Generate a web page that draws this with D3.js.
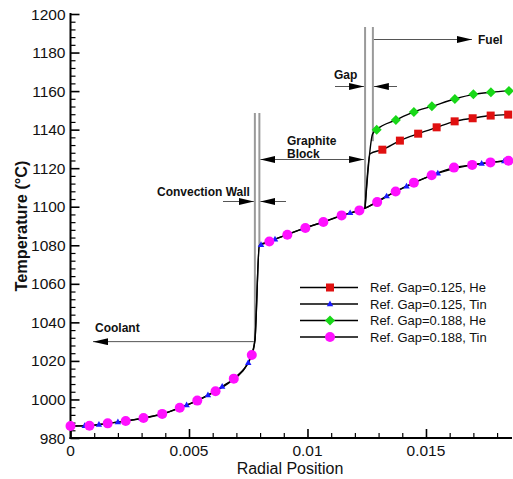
<!DOCTYPE html>
<html><head><meta charset="utf-8">
<script src="https://cdn.jsdelivr.net/npm/d3@7"></script>
<style>
body{margin:0;background:#fff;}
svg{display:block;font-family:"Liberation Sans",Arial,sans-serif;}
</style></head>
<body>
<svg id="chart" width="513" height="479"></svg>
<script>
// ---- data ----
const xTicks = [0, 0.005, 0.01, 0.015];
const xTickLabels = ["0", "0.005", "0.01", "0.015"];
const yTicks = [980,1000,1020,1040,1060,1080,1100,1120,1140,1160,1180,1200];

// Ref. Gap=0.188, Tin (magenta circles)
const tin188X = [0, 0.0008, 0.00157, 0.00233, 0.00308, 0.00387, 0.00461, 0.00535, 0.00612, 0.00689, 0.00765, 0.00839, 0.00915, 0.00991, 0.01067, 0.01144, 0.01219, 0.01294, 0.01372, 0.01449, 0.01524, 0.01618, 0.01695, 0.01772, 0.01848];
const tin188T = [986.2, 986.4, 987.6, 988.8, 990.4, 992.5, 995.7, 999.4, 1004.3, 1010.8, 1023.1, 1082.0, 1085.5, 1089.0, 1092.1, 1095.5, 1098.1, 1102.4, 1107.9, 1112.5, 1116.3, 1120.3, 1121.7, 1123.0, 1123.9];

// Ref. Gap=0.125, Tin (blue triangles)
const tin125X = [0.0006, 0.0012, 0.0020, 0.0030, 0.0038, 0.0049, 0.0058, 0.0064, 0.0075, 0.00804, 0.00863, 0.00982, 0.0106, 0.0118, 0.01334, 0.01418, 0.0155, 0.01689, 0.01735, 0.0183];
const tin125T = [986.3, 987.0, 988.3, 990.2, 992.2, 997.1, 1002.3, 1006.7, 1019.0, 1080.3, 1083.1, 1088.6, 1091.8, 1096.8, 1105.5, 1110.6, 1117.4, 1121.6, 1122.4, 1123.7];

// Ref. Gap=0.125, He (red squares)
const he125X = [0.01316, 0.0139, 0.01467, 0.01545, 0.01621, 0.01697, 0.01773, 0.01847];
const he125T = [1129.6, 1134.3, 1137.9, 1141.2, 1144.3, 1145.9, 1147.3, 1147.8];

// Ref. Gap=0.188, He (green diamonds)
const he188X = [0.01292, 0.01373, 0.01449, 0.01525, 0.01622, 0.017, 0.01774, 0.0185];
const he188T = [1140.0, 1145.0, 1149.2, 1152.1, 1155.9, 1158.3, 1159.4, 1160.1];

// unmarked profile vertices (coolant wall jump, gap kink, He gap rise)
const wallJumpX = [0.00778, 0.00797];
const wallJumpT = [1030.5, 1080.0];
const gapKinkX = [0.01243];
const gapKinkT = [1099.3];
const he125RiseX = [0.01264];
const he125RiseT = [1127.5];
const he188RiseX = [0.01275];
const he188RiseT = [1137.8];

// annotation positions (data units)
const convWallX = [0.00778, 0.00797];
const gapX = [0.01243, 0.01276];

const seriesNames = ["Ref. Gap=0.125, He", "Ref. Gap=0.125, Tin", "Ref. Gap=0.188, He", "Ref. Gap=0.188, Tin"];
const seriesColors = ["#e01010", "#1a1aff", "#18d818", "#ff10ff"];
const seriesShapes = ["square", "triangle", "diamond", "circle"];

// ---- build ----
const zip = (xs, ts) => xs.map((v, i) => [v, ts[i]]);
const sortPts = a => a.slice().sort((p, q) => p[0] - q[0]);

const tin188Line = sortPts([...zip(tin188X, tin188T), ...zip(wallJumpX, wallJumpT), ...zip(gapKinkX, gapKinkT)]);
const tin125Line = sortPts([[0, tin188T[0]], ...zip(tin125X, tin125T), ...zip(wallJumpX, wallJumpT), ...zip(gapKinkX, gapKinkT)]);
const he125Line = sortPts([...zip(gapKinkX, gapKinkT), ...zip(he125RiseX, he125RiseT), ...zip(he125X, he125T)]);
const he188Line = sortPts([...zip(gapKinkX, gapKinkT), ...zip(he188RiseX, he188RiseT), ...zip(he188X, he188T)]);

const series = [
  {line: he125Line, pts: zip(he125X, he125T)},
  {line: tin125Line, pts: zip(tin125X, tin125T)},
  {line: he188Line, pts: zip(he188X, he188T)},
  {line: tin188Line, pts: zip(tin188X, tin188T)}
];

const svg = d3.select("#chart");
const mLeft = 70.5, mRight = 512, mTop = 14, mBottom = 438;
const x = d3.scaleLinear().domain([0, 0.01863]).range([mLeft, mRight]);
const y = d3.scaleLinear().domain([980, 1200]).range([mBottom, mTop]);

// axes
const yAxis = svg.append("g").attr("transform", `translate(${mLeft},0)`)
  .call(d3.axisRight(y).tickValues(d3.range(980, 1201, 4)).tickSize(5).tickFormat(""));
yAxis.selectAll(".tick line").attr("stroke", "#000").attr("stroke-width", 1.2);
yAxis.selectAll(".tick").filter(d => yTicks.includes(d)).select("line").attr("x2", 9).attr("stroke-width", 1.6);
yAxis.select(".domain").remove();

const xAxis = svg.append("g").attr("transform", `translate(0,${mBottom})`)
  .call(d3.axisTop(x).tickValues(d3.range(0, 19).map(i => i * 0.001)).tickSize(5).tickFormat(""));
xAxis.selectAll(".tick line").attr("stroke", "#000").attr("stroke-width", 1.2);
xAxis.selectAll(".tick").filter((d, i) => i % 5 === 0).select("line").attr("y2", -9).attr("stroke-width", 1.6);
xAxis.select(".domain").remove();

svg.append("line").attr("x1", mLeft).attr("x2", mLeft).attr("y1", mTop - 1).attr("y2", mBottom + 1).attr("stroke", "#000").attr("stroke-width", 2);
svg.append("line").attr("x1", mLeft - 1).attr("x2", mRight).attr("y1", mBottom).attr("y2", mBottom).attr("stroke", "#000").attr("stroke-width", 2);

// tick labels
svg.append("g").selectAll("text").data(yTicks).join("text")
  .attr("x", mLeft - 5).attr("y", d => y(d)).attr("dy", "0.36em")
  .attr("text-anchor", "end").attr("font-size", 15.5).attr("fill", "#111").text(d => d);
svg.append("g").selectAll("text").data(xTicks).join("text")
  .attr("x", d => x(d)).attr("y", mBottom + 17.5)
  .attr("text-anchor", "middle").attr("font-size", 15.5).attr("fill", "#111").text((d, i) => xTickLabels[i]);

// titles
svg.append("text").attr("x", 290).attr("y", 474).attr("text-anchor", "middle")
  .attr("font-size", 16).attr("fill", "#111").text("Radial Position");
svg.append("text").attr("transform", `translate(27,226) rotate(-90)`).attr("text-anchor", "middle")
  .attr("font-size", 16.3).attr("font-weight", "bold").attr("fill", "#111").text("Temperature (°C)");

// arrow marker defs
const defs = svg.append("defs");
defs.append("marker").attr("id", "ah").attr("viewBox", "0 0 15 7").attr("refX", 15).attr("refY", 3.5)
  .attr("markerWidth", 15).attr("markerHeight", 7).attr("markerUnits", "userSpaceOnUse").attr("orient", "auto-start-reverse")
  .append("path").attr("d", "M0,0 L15,3.5 L0,7 Z").attr("fill", "#000");

// annotation double lines
const annG = svg.append("g");
function vline(xv, y1, y2) {
  annG.append("line").attr("x1", x(xv)).attr("x2", x(xv)).attr("y1", y1).attr("y2", y2)
    .attr("stroke", "#9a9a9a").attr("stroke-width", 2);
}
vline(convWallX[0], 113, y(1030.5));
vline(convWallX[1], 113, y(1080));
vline(gapX[0], 27, y(1099.3));
vline(gapX[1], 27, y(1134));

function arrow(x1, y1, x2, y2, both) {
  const l = annG.append("line").attr("x1", x1).attr("y1", y1).attr("x2", x2).attr("y2", y2)
    .attr("stroke", "#555").attr("stroke-width", 1).attr("marker-end", "url(#ah)");
  if (both) l.attr("marker-start", "url(#ah)");
}
// Coolant
arrow(x(convWallX[0]) - 1, y(1030), 93, y(1030));
// Convection wall
arrow(223, 201.5, x(convWallX[0]) - 1, 201.5);
arrow(286, 201.5, x(convWallX[1]) + 1, 201.5);
// Graphite block
arrow(x(convWallX[1]) + 1, 159.5, x(gapX[0]) - 1, 159.5, true);
// Gap
arrow(335, 86.5, x(gapX[0]) - 1, 86.5);
arrow(397, 86.5, x(gapX[1]) + 1, 86.5);
// Fuel
arrow(x(gapX[1]) + 1, 39.5, 472, 39.5);

const lab = (t, xx, yy) => annG.append("text").attr("x", xx).attr("y", yy).attr("font-size", 12)
  .attr("font-weight", "bold").attr("fill", "#111").text(t);
lab("Coolant", 95, 332);
lab("Convection Wall", 157, 196);
lab("Graphite", 287, 145);
lab("Block", 287, 158);
lab("Gap", 334, 79);
lab("Fuel", 478, 44);

// lines
const lineGen = d3.line().x(d => x(d[0])).y(d => y(d[1])).curve(d3.curveMonotoneX);
const plotG = svg.append("g");
series.forEach(s => {
  plotG.append("path").attr("d", lineGen(s.line)).attr("fill", "none").attr("stroke", "#000").attr("stroke-width", 1.4);
});

function drawMarker(g, shape, cx, cy, color) {
  if (shape === "square") g.append("rect").attr("x", cx - 4).attr("y", cy - 4).attr("width", 8).attr("height", 8).attr("fill", color);
  else if (shape === "triangle") g.append("path").attr("d", `M${cx},${cy - 3.5} L${cx + 3.2},${cy + 2.2} L${cx - 3.2},${cy + 2.2} Z`).attr("fill", color);
  else if (shape === "diamond") g.append("path").attr("d", `M${cx},${cy - 5} L${cx + 5},${cy} L${cx},${cy + 5} L${cx - 5},${cy} Z`).attr("fill", color);
  else g.append("circle").attr("cx", cx).attr("cy", cy).attr("r", 5).attr("fill", color);
}
series.forEach((s, i) => {
  s.pts.forEach(p => drawMarker(plotG, seriesShapes[i], x(p[0]), y(p[1]), seriesColors[i]));
});

// legend
const lg = svg.append("g");
const legY = [287.5, 304, 320.5, 337];
seriesNames.forEach((n, i) => {
  lg.append("line").attr("x1", 300).attr("x2", 358).attr("y1", legY[i]).attr("y2", legY[i]).attr("stroke", "#000").attr("stroke-width", 1.4);
  drawMarker(lg, seriesShapes[i], 330, legY[i], seriesColors[i]);
  lg.append("text").attr("x", 370).attr("y", legY[i]).attr("dy", "0.36em").attr("font-size", 13).attr("fill", "#111").text(n);
});
</script>
</body></html>
